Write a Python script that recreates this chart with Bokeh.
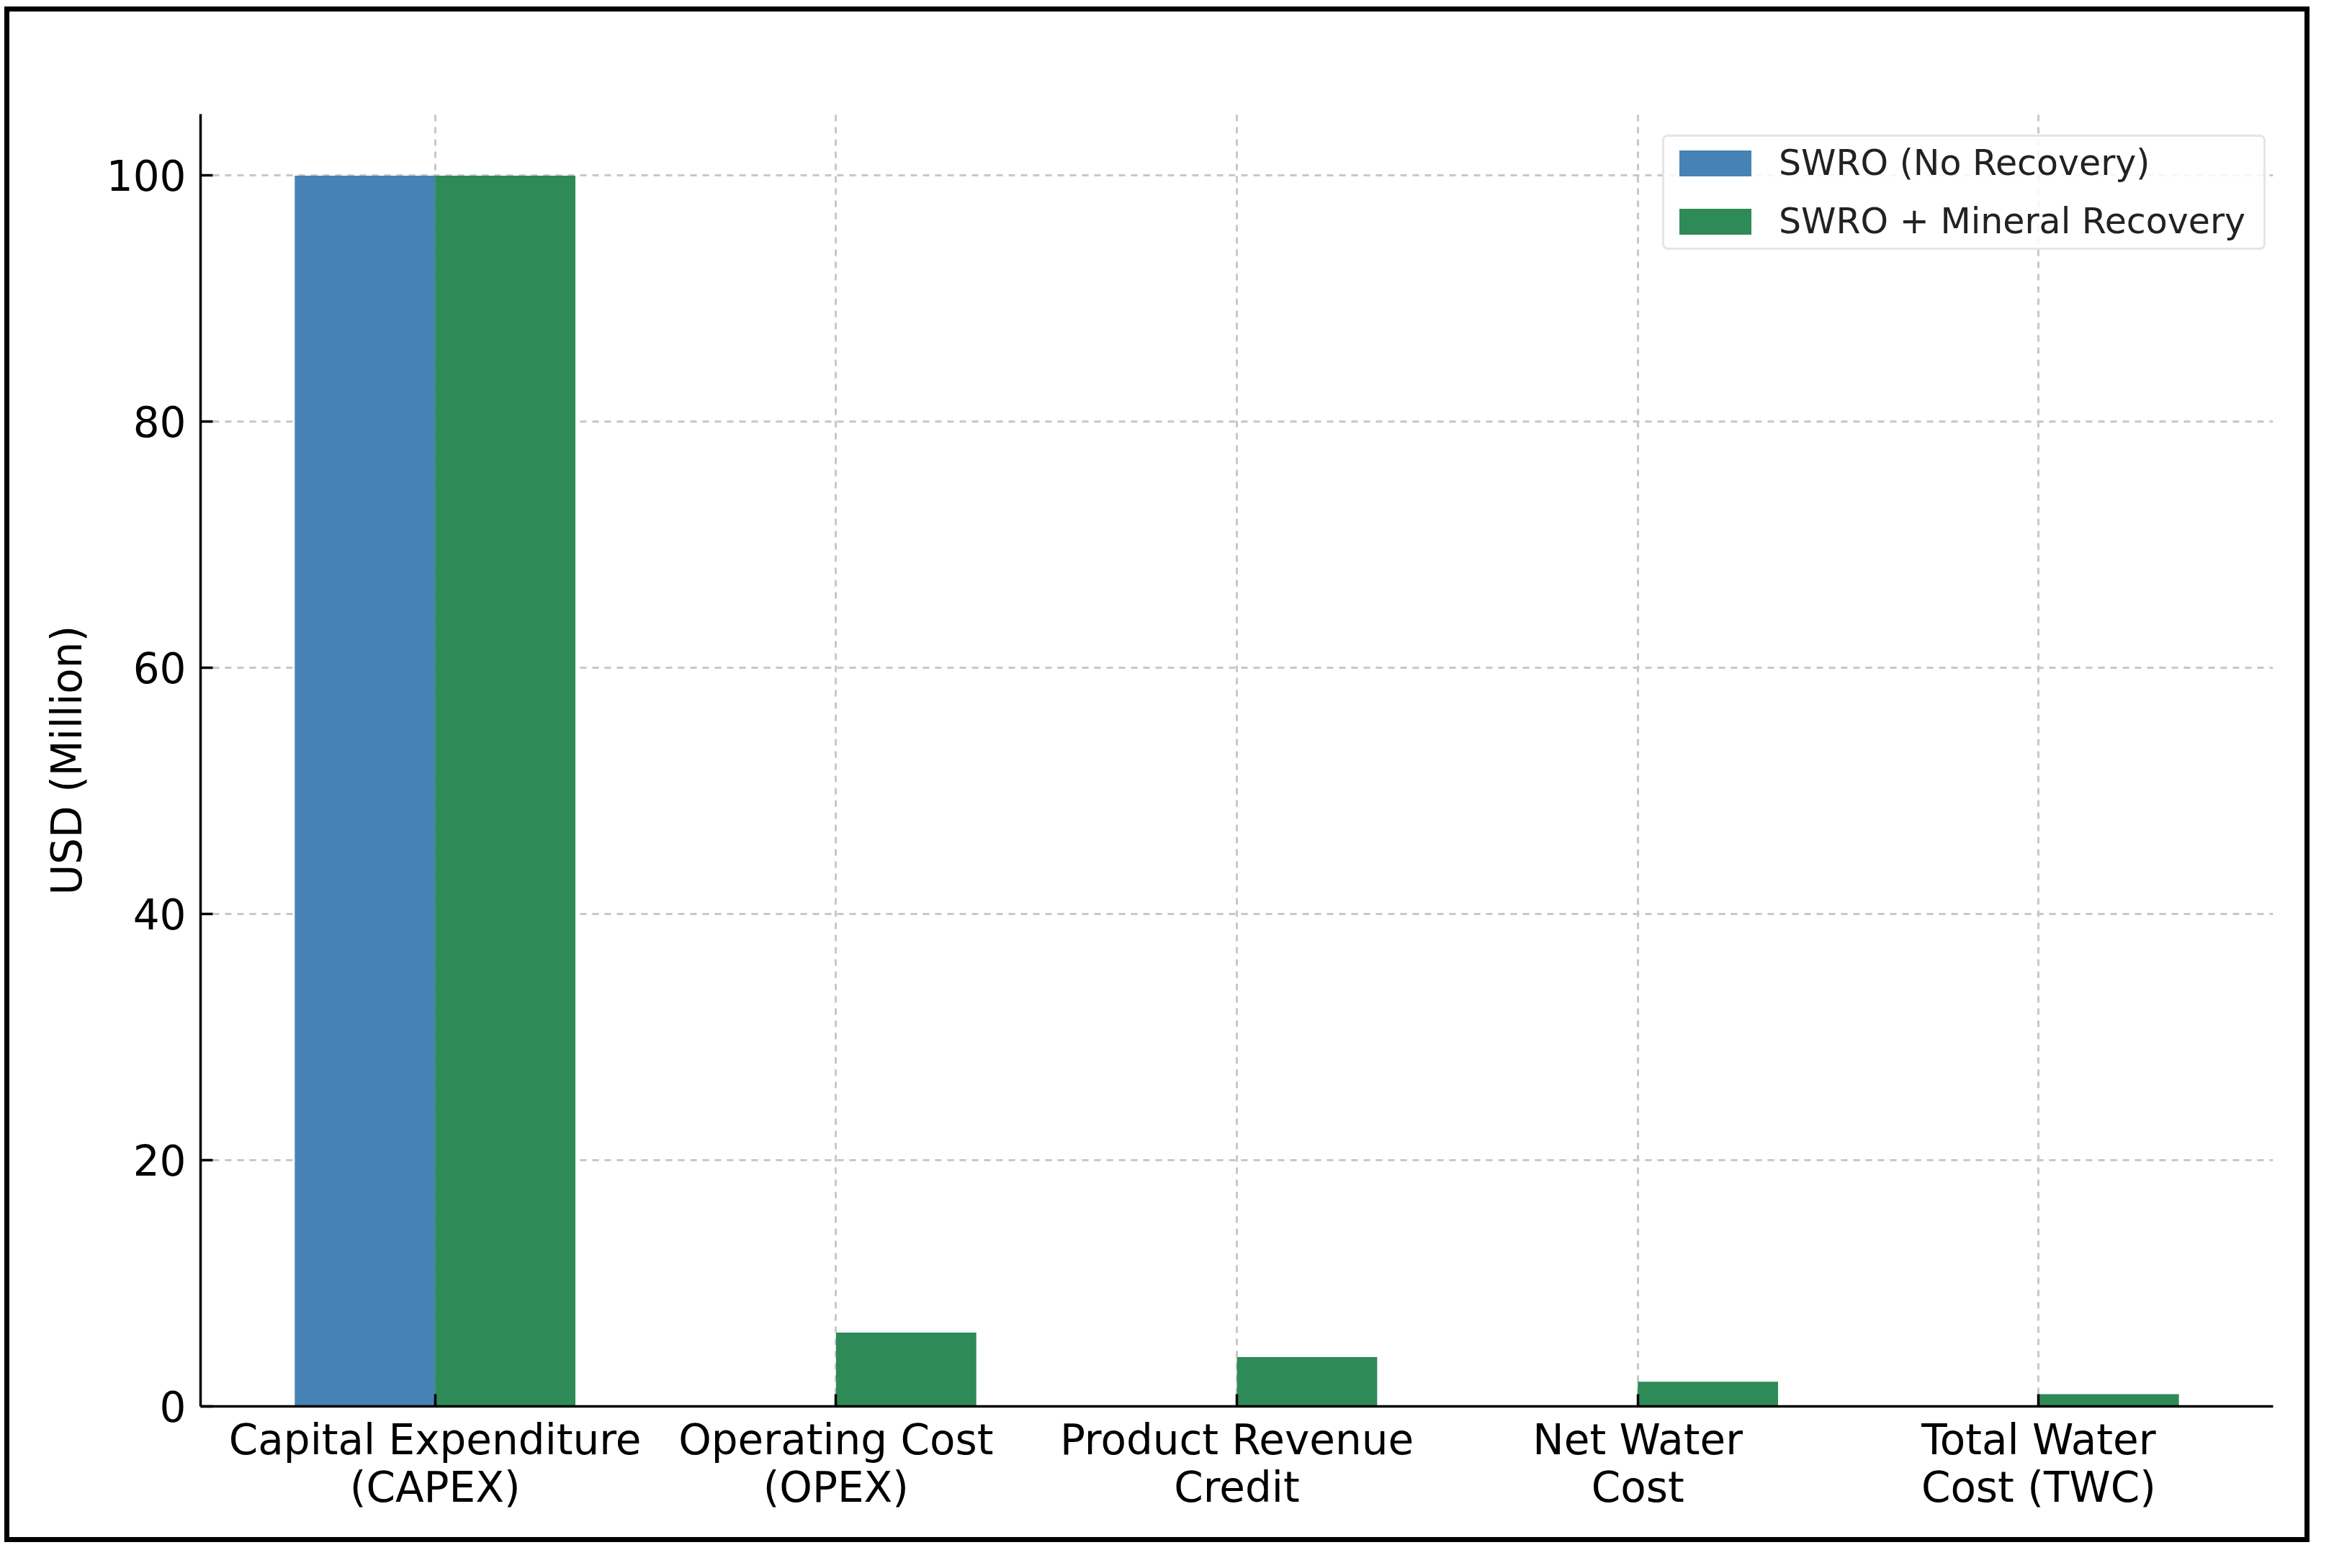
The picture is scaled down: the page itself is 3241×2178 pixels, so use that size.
import numpy as np
from bokeh.plotting import figure
from bokeh.models import Range1d, FixedTicker, Legend, LegendItem, ColumnDataSource
from bokeh.embed import file_html
from bokeh.resources import INLINE

categories = ["Capital Expenditure\n(CAPEX)", "Operating Cost\n(OPEX)",
              "Product Revenue\nCredit", "Net Water\nCost", "Total Water\nCost (TWC)"]
series_names = ["SWRO (No Recovery)", "SWRO + Mineral Recovery"]
swro_no_recovery = [100, 0, 0, 0, 0]
swro_mineral = [100, 6, 4, 2, 1]
y_ticks = [0, 20, 40, 60, 80, 100]

FONT = "DejaVu Sans"
bar_w = 0.35
idx = np.arange(len(categories))

p = figure(width=3201, height=2133, output_backend="svg", toolbar_location=None,
           x_range=Range1d(-0.585, 4.585), y_range=Range1d(0, 105),
           min_border_left=265, min_border_right=58, min_border_top=142, min_border_bottom=196,
           styles={"border": "7px solid black"})
p.margin = (9, 0, 0, 6)
p.outline_line_color = None
p.background_fill_color = "white"
p.border_fill_color = "white"

src1 = ColumnDataSource(dict(x=idx - bar_w / 2, top=swro_no_recovery))
src2 = ColumnDataSource(dict(x=idx + bar_w / 2, top=swro_mineral))
r1 = p.vbar(x="x", top="top", width=bar_w, bottom=0, source=src1,
            fill_color="#4682B4", line_color=None)
r2 = p.vbar(x="x", top="top", width=bar_w, bottom=0, source=src2,
            fill_color="#2E8B57", line_color=None)

# axes
p.xaxis.ticker = FixedTicker(ticks=list(idx))
p.xaxis.major_label_overrides = {int(i): c for i, c in zip(idx, categories)}
p.yaxis.ticker = FixedTicker(ticks=y_ticks)
p.yaxis.axis_label = "USD (Million)"
for ax in (p.xaxis[0], p.yaxis[0]):
    ax.axis_line_color = "black"
    ax.axis_line_width = 3.5
    ax.major_tick_in = 17
    ax.major_tick_out = 0
    ax.major_tick_line_width = 3.5
    ax.major_tick_line_color = "black"
    ax.minor_tick_line_color = None
    ax.major_label_text_font = FONT
    ax.major_label_text_font_size = "58px"
    ax.major_label_text_color = "black"
    ax.axis_label_text_font = FONT
    ax.axis_label_text_font_size = "58px"
    ax.axis_label_text_font_style = "normal"
    ax.axis_label_text_color = "black"
p.yaxis.major_label_standoff = 20
p.yaxis.axis_label_standoff = 18
p.xaxis.major_label_standoff = 12
p.xaxis.major_label_text_line_height = 0.98

for g in (p.xgrid[0], p.ygrid[0]):
    g.grid_line_color = "#c8c8c8"
    g.grid_line_width = 3
    g.grid_line_dash = "9 8"
p.xgrid.ticker = FixedTicker(ticks=list(idx))
p.ygrid.ticker = FixedTicker(ticks=y_ticks)

legend = Legend(items=[LegendItem(label=series_names[0], renderers=[r1]),
                       LegendItem(label=series_names[1], renderers=[r2])],
                location=(2030, 1606))
legend.label_text_font = FONT
legend.label_text_font_size = "49px"
legend.label_text_color = "#222222"
legend.glyph_width = 125
legend.glyph_height = 45
legend.label_standoff = 26
legend.label_width = 665
legend.padding = 8
legend.spacing = 24
legend.border_line_color = "#cccccc"
legend.border_line_width = 3
legend.background_fill_alpha = 0.85
legend.margin = 0
if "border_radius" in legend.properties():
    legend.border_radius = 8
p.add_layout(legend, "center")

open("out.html", "w").write(file_html(p, INLINE))
